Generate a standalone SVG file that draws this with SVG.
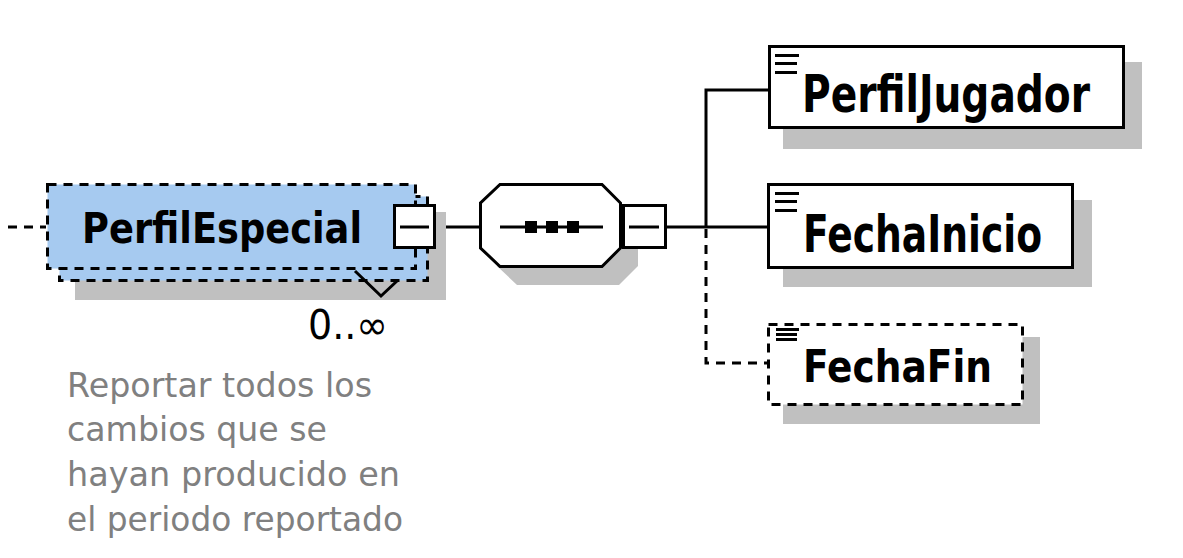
<svg xmlns="http://www.w3.org/2000/svg" width="1183" height="558" viewBox="0 0 1183 558">
<style>
.ln{stroke:#000;stroke-width:3;fill:none}
.dash{stroke-dasharray:9 7}
.shadow{fill:#C0C0C0;stroke:none}
.box{fill:#fff;stroke:#000;stroke-width:3}
.blue{fill:#A6CAF0;stroke:#000;stroke-width:3;stroke-dasharray:9 7}
.name{font-family:"DejaVu Sans",Verdana,sans-serif;font-weight:bold;fill:#000}
.doc{font-family:"DejaVu Sans",Verdana,sans-serif;fill:#808080;font-size:34px}
.card{font-family:"DejaVu Sans",Verdana,sans-serif;fill:#000;font-size:40px}
</style>
<rect width="1183" height="558" fill="#fff"/>
<g id="connectors">
  <line class="ln dash" x1="8" y1="227" x2="46" y2="227"/>
  <line class="ln" x1="436" y1="227" x2="480" y2="227"/>
  <line class="ln" x1="667" y1="227" x2="768" y2="227"/>
  <polyline class="ln" points="768,90 706,90 706,227"/>
  <polyline class="ln dash" points="706,229 706,363 767,363"/>
</g>
<g id="PerfilEspecial">
  <rect class="shadow" x="75" y="212" width="371" height="88"/>
  <rect class="blue" x="59.5" y="196.5" width="368" height="84"/>
  <rect class="blue" x="47.5" y="184.5" width="368" height="84"/>
  <text class="name" x="82" y="243" font-size="43" textLength="280" lengthAdjust="spacingAndGlyphs">PerfilEspecial</text>
  <polyline class="ln" points="355,271 381,296 397,281"/>
  <rect class="box" x="394.5" y="205.5" width="40" height="42"/>
  <line class="ln" x1="400" y1="227" x2="429" y2="227"/>
  <text class="card" x="308" y="339" textLength="80" lengthAdjust="spacingAndGlyphs">0..∞</text>
  <text class="doc" x="67" y="397" textLength="305" lengthAdjust="spacingAndGlyphs">Reportar todos los</text>
  <text class="doc" x="67" y="441" textLength="260" lengthAdjust="spacingAndGlyphs">cambios que se</text>
  <text class="doc" x="67" y="486" textLength="333" lengthAdjust="spacingAndGlyphs">hayan producido en</text>
  <text class="doc" x="67" y="531" textLength="336" lengthAdjust="spacingAndGlyphs">el periodo reportado</text>
</g>
<g id="sequence">
  <polygon class="shadow" points="517,202 619,202 638,221 638,266 619,285 517,285 497,266 497,221"/>
  <polygon class="box" points="500,184.5 602,184.5 620.5,203 620.5,248 602,266.5 500,266.5 480.5,248 480.5,203"/>
  <line class="ln" x1="500" y1="227" x2="603" y2="227"/>
  <rect x="525" y="221" width="12" height="12" fill="#000"/>
  <rect x="546" y="221" width="12" height="12" fill="#000"/>
  <rect x="567" y="221" width="12" height="12" fill="#000"/>
  <rect class="box" x="623.5" y="205.5" width="42" height="42"/>
  <line class="ln" x1="629" y1="227" x2="659" y2="227"/>
</g>
<g id="PerfilJugador">
  <rect class="shadow" x="783" y="62" width="359" height="87"/>
  <rect class="box" x="769.5" y="46.5" width="354" height="81"/>
  <rect x="775" y="54" width="24" height="3" fill="#000"/>
  <rect x="775" y="62" width="22" height="3" fill="#000"/>
  <rect x="775" y="71" width="22" height="3" fill="#000"/>
  <text class="name" x="802" y="112" font-size="52" textLength="288" lengthAdjust="spacingAndGlyphs">PerfilJugador</text>
</g>
<g id="FechaInicio">
  <rect class="shadow" x="783" y="200" width="309" height="87"/>
  <rect class="box" x="768.5" y="184.5" width="304" height="83"/>
  <rect x="775" y="192" width="24" height="3" fill="#000"/>
  <rect x="775" y="200" width="22" height="3" fill="#000"/>
  <rect x="775" y="209" width="22" height="3" fill="#000"/>
  <text class="name" x="803" y="252" font-size="52" textLength="239" lengthAdjust="spacingAndGlyphs">FechaInicio</text>
</g>
<g id="FechaFin">
  <rect class="shadow" x="783" y="337" width="257" height="87"/>
  <rect class="box dash" x="768.5" y="324.5" width="254" height="80"/>
  <rect x="776" y="328" width="23" height="3" fill="#000"/>
  <rect x="776" y="333" width="21" height="3" fill="#000"/>
  <rect x="776" y="338" width="21" height="3" fill="#000"/>
  <text class="name" x="803" y="382" font-size="44" textLength="189" lengthAdjust="spacingAndGlyphs">FechaFin</text>
</g>
</svg>
